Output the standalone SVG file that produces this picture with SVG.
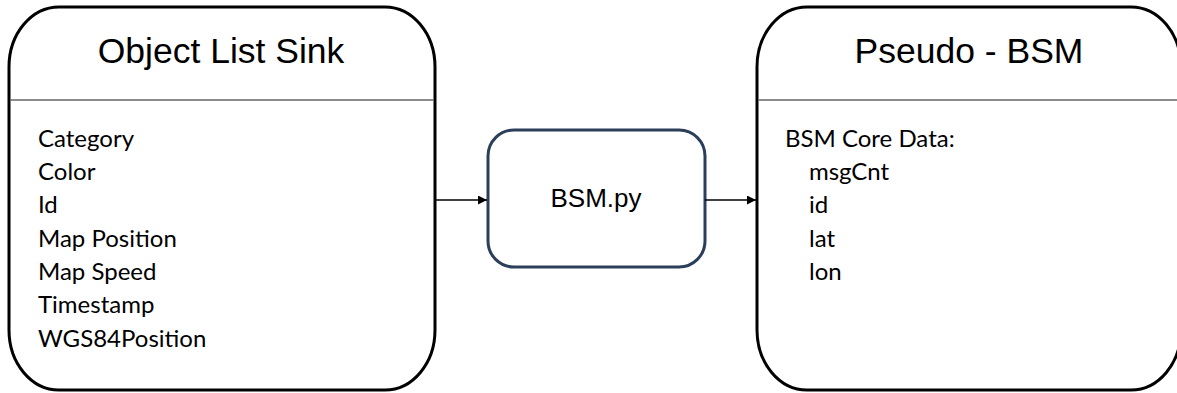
<svg xmlns="http://www.w3.org/2000/svg" width="1177" height="393" viewBox="0 0 1177 393">
  <style>
    .box { fill: #ffffff; stroke: #000000; stroke-width: 3; }
    .sep { stroke: #666666; stroke-width: 1.5; }
    .title { font-family: "Liberation Sans", Arial, sans-serif; font-size: 35.5px; fill: #000000; text-anchor: middle; }
    .body { font-family: Lato, "Liberation Sans", sans-serif; font-size: 24px; fill: #000000; }
    .proc { fill: #ffffff; stroke: #2b3f5a; stroke-width: 3; }
    .proclabel { font-family: "Liberation Sans", Arial, sans-serif; font-size: 26px; fill: #000000; text-anchor: middle; }
    .conn { stroke: #000000; stroke-width: 1.5; fill: none; }
  </style>
  <defs>
    <marker id="arrow" markerWidth="10" markerHeight="10" refX="9" refY="4.5" orient="auto" markerUnits="userSpaceOnUse">
      <path d="M0,0 L9,4.5 L0,9 Z" fill="#000000"/>
    </marker>
  </defs>
  <rect width="1177" height="393" fill="#ffffff"/>

  <g id="object-list-sink">
    <rect class="box" x="9" y="7" width="426" height="383" rx="50" ry="60"/>
    <line class="sep" x1="10" y1="100" x2="434" y2="100"/>
    <text class="title" x="221" y="63">Object List Sink</text>
    <text class="body" x="38" y="147">Category</text>
    <text class="body" x="38" y="180">Color</text>
    <text class="body" x="38" y="213">Id</text>
    <text class="body" x="38" y="247">Map Position</text>
    <text class="body" x="38" y="280">Map Speed</text>
    <text class="body" x="38" y="313">Timestamp</text>
    <text class="body" x="38" y="347">WGS84Position</text>
  </g>

  <g id="bsm-py">
    <rect class="proc" x="488" y="130" width="217" height="137" rx="26" ry="26"/>
    <text class="proclabel" x="596" y="207">BSM.py</text>
  </g>

  <g id="pseudo-bsm">
    <rect class="box" x="757" y="7" width="424" height="383" rx="50" ry="60"/>
    <line class="sep" x1="758" y1="100" x2="1177" y2="100"/>
    <text class="title" x="969" y="63">Pseudo - BSM</text>
    <text class="body" x="785" y="147">BSM Core Data:</text>
    <text class="body" x="809" y="180">msgCnt</text>
    <text class="body" x="809" y="213">id</text>
    <text class="body" x="809" y="247">lat</text>
    <text class="body" x="809" y="280">lon</text>
  </g>

  <g id="connectors">
    <line class="conn" x1="436" y1="200" x2="487" y2="200" marker-end="url(#arrow)"/>
    <line class="conn" x1="705" y1="200" x2="756" y2="200" marker-end="url(#arrow)"/>
  </g>
</svg>
